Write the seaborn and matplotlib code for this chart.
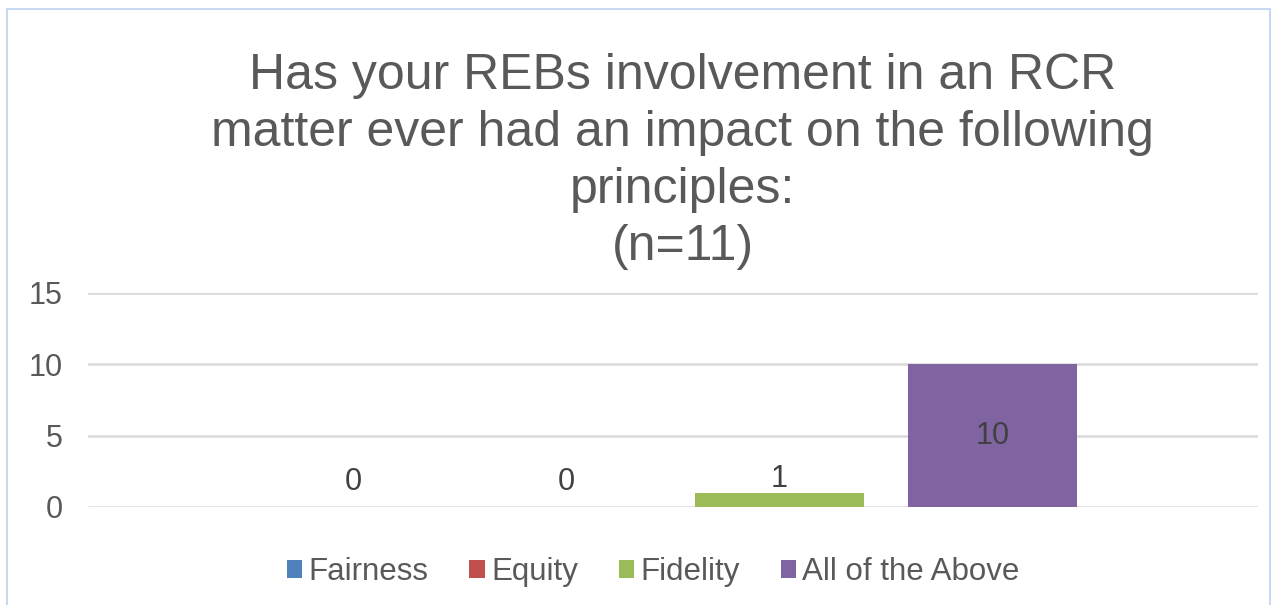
import pandas as pd
import seaborn as sns
import matplotlib.pyplot as plt
from matplotlib.patches import Rectangle

# Chart data
principles = ['Fairness', 'Equity', 'Fidelity', 'All of the Above']
counts = [0, 0, 1, 10]
colors = ['#4f81bd', '#c0504d', '#9bbb59', '#8064a2']
y_ticks = [0, 5, 10, 15]
title = ('Has your REBs involvement in an RCR\n'
         'matter ever had an impact on the following\n'
         'principles:\n(n=11)')

df = pd.DataFrame({'group': [''] * len(principles),
                   'Principle': principles,
                   'Count': counts})

sns.set_theme(style="white")
plt.rcParams['font.family'] = ['Liberation Sans', 'DejaVu Sans']

text_gray = '#595959'
fig = plt.figure(figsize=(12.71, 6.05), dpi=100)
ax = fig.add_axes([0.0692, 0.162, 0.9206, 0.354])

sns.barplot(data=df, x='group', y='Count', hue='Principle',
            palette=colors, hue_order=principles,
            width=0.728, gap=0.21, errorbar=None, ax=ax, saturation=1,
            linewidth=0)

ax.set_ylim(0, 15)
ax.set_xlim(-0.5, 0.5)
ax.set_yticks(y_ticks)
ax.set_xticks([])
ax.set_xlabel('')
ax.set_ylabel('')
ax.tick_params(axis='y', length=0, pad=18, labelsize=22, labelcolor=text_gray)
ax.yaxis.grid(True, color='#d9d9d9', linewidth=1.8)
ax.set_axisbelow(True)
for s in ax.spines.values():
    s.set_visible(False)

# Data labels, Excel style
for cont, val in zip(ax.containers, counts):
    if val >= 5:
        ax.bar_label(cont, label_type='center', fontsize=22, color='#404040')
    elif val == 0:
        ax.bar_label(cont, padding=7, fontsize=22, color='#404040')
    else:
        ax.bar_label(cont, padding=-1, fontsize=22, color='#404040')

ax.legend(loc='center', bbox_to_anchor=(0.514, 0.054),
          bbox_transform=fig.transFigure, ncol=4, frameon=False,
          fontsize=22.5, labelcolor=text_gray, handlelength=0.5,
          handleheight=0.5, handletextpad=0.2, columnspacing=1.3)

fig.text(0.537, 0.733, title, ha='center', va='center', fontsize=36,
         color=text_gray, linespacing=1.3)

# chart border
fig.patches.append(Rectangle((7 / 1271, -0.01), 1263 / 1271, 1 - 9 / 605 + 0.01,
                             transform=fig.transFigure, fill=False,
                             edgecolor='#c6d9f0', linewidth=1.5))

plt.savefig('out.png', dpi=100)
